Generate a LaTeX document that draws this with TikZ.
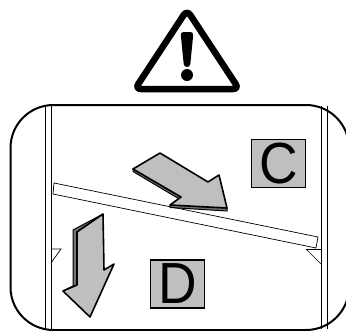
\documentclass[tikz,border=0pt]{standalone}
\usepackage{fontspec}
\setmainfont{Liberation Sans}
\newcommand{\narrowtxt}[1]{\scalebox{.92}[1]{#1}}
\begin{document}
\begin{tikzpicture}[
  x=1pt, y=-1pt,
  letterbox/.style={draw=black, line width=1.9pt, fill=black!25, inner sep=0pt, minimum width=54pt, minimum height=48pt, font=\fontsize{58}{58}\selectfont},
  thinline/.style={draw=black, line width=0.7pt},
  arrowface/.style={draw=black, line width=1.6pt, fill=black!25, line join=round},
  arrowside/.style={draw=black, line width=1pt, fill=black!55, line join=round}]
\useasboundingbox (0,0) rectangle (346,330);

% ===== warning sign =====
\draw[line width=6.5pt, rounded corners=6pt] (187,10) -- (135,89) -- (239,89) -- cycle;
\fill[rounded corners=3pt] (180.5,32) -- (193.5,32) -- (190,67) -- (184,67) -- cycle;
\fill (187,75) circle (6);

% ===== frame and walls =====
\begin{scope}
\clip (0,0) rectangle (346,330);
\draw[line width=2pt] (10.5,148) arc (180:270:43) -- (306,105) arc (270:360:43) -- (349,287) arc (0:90:43) -- (53.5,330) arc (90:180:43) -- cycle;
\end{scope}
\draw[thinline] (45.5,106) -- (45.5,329);
\draw[thinline] (51,106) -- (51,329);
\draw[thinline] (321,106) -- (321,329);
\draw[thinline] (327,106) -- (327,329);

% ===== plate and stops =====
\draw[thinline, fill=white] (54,183) -- (318,237) -- (316,248) -- (53,194) -- cycle;
\draw[thinline] (51,249) -- (61,249) -- (51,263);
\draw[thinline] (306,249) -- (321,249);
\draw[thinline] (306,249) -- (321,264);

% ===== arrows =====
\draw[arrowside] (133,169) -- (133,171.5) -- (181,200) -- (181,197) -- cycle;
\draw[arrowside] (170,205) -- (170,207.5) -- (227,211) -- (227,208) -- cycle;
\draw[arrowface] (133,169) -- (160,153) -- (208,182) -- (219,175) -- (227,208) -- (170,205) -- (181,197) -- cycle;
\draw[arrowside] (103,214) -- (73,230) -- (73,286) -- (63,291) -- (66,293) -- (77,285) -- (77,232) -- cycle;
\draw[arrowface] (103,214) -- (77,232) -- (77,285) -- (63,291) -- (90,317) -- (114,264) -- (104,270) -- cycle;

% ===== letters =====
\node[letterbox] (boxC) at (278.5,163.5) {\narrowtxt{C}};
\node[letterbox] (boxD) at (177.5,284) {\narrowtxt{D}};
\end{tikzpicture}
\end{document}
